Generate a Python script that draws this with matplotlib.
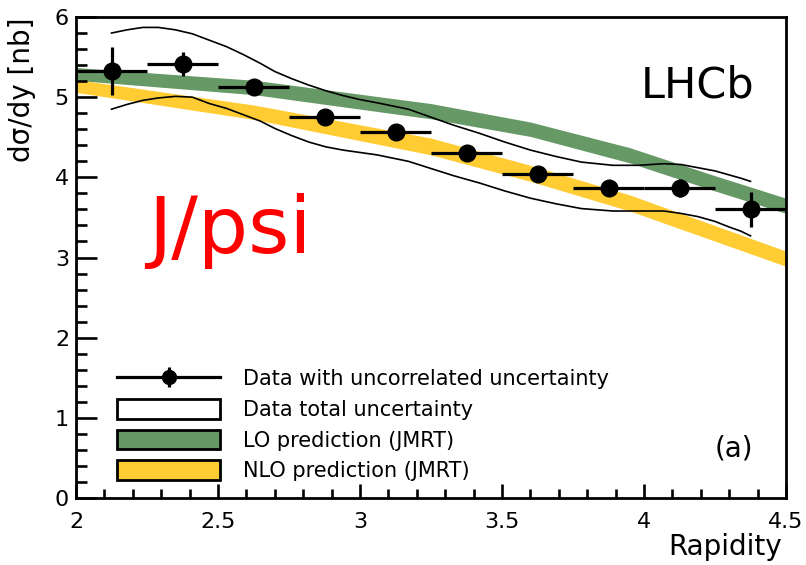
import matplotlib
matplotlib.use("Agg")
import matplotlib.pyplot as plt
from matplotlib.lines import Line2D
from matplotlib.patches import Patch
from matplotlib.legend_handler import HandlerTuple
from matplotlib.ticker import MultipleLocator

plt.rcParams['font.family'] = ['DejaVu Sans']

# ---- data ----
rap_centers = [2.125, 2.375, 2.625, 2.875, 3.125, 3.375, 3.625, 3.875, 4.125, 4.375]
rap_halfwidth = [0.125] * 10
xsec = [5.33, 5.41, 5.13, 4.75, 4.56, 4.30, 4.04, 3.87, 3.87, 3.60]
xsec_stat = [0.30, 0.15, 0.05, 0.05, 0.05, 0.05, 0.05, 0.05, 0.11, 0.22]

tot_x = [2.125, 2.18, 2.235, 2.29, 2.35, 2.41, 2.47, 2.53, 2.59, 2.65, 2.70, 2.76, 2.82,
         2.88, 2.94, 3.00, 3.06, 3.17, 3.25, 3.33, 3.42, 3.51, 3.60, 3.69, 3.78, 3.89,
         3.98, 4.07, 4.13, 4.19, 4.25, 4.30, 4.34, 4.375]
tot_up = [5.80, 5.84, 5.87, 5.87, 5.84, 5.79, 5.71, 5.63, 5.53, 5.42, 5.32, 5.23, 5.15,
          5.08, 5.02, 4.97, 4.93, 4.85, 4.75, 4.65, 4.55, 4.44, 4.34, 4.26, 4.19, 4.15,
          4.15, 4.17, 4.16, 4.12, 4.08, 4.03, 3.99, 3.95]
tot_dn = [4.85, 4.91, 4.96, 4.99, 5.01, 5.00, 4.92, 4.86, 4.78, 4.70, 4.61, 4.52, 4.44,
          4.38, 4.34, 4.31, 4.28, 4.20, 4.11, 4.02, 3.93, 3.83, 3.74, 3.67, 3.61, 3.58,
          3.58, 3.58, 3.55, 3.51, 3.45, 3.38, 3.33, 3.27]

lo_x = [2.0, 2.63, 3.25, 3.6, 3.95, 4.25, 4.5]
lo_up = [5.37, 5.21, 4.92, 4.69, 4.37, 4.02, 3.74]
lo_dn = [5.21, 5.03, 4.73, 4.51, 4.18, 3.83, 3.55]

nlo_x = [2.0, 2.63, 3.25, 3.6, 3.95, 4.5]
nlo_up = [5.22, 4.90, 4.49, 4.15, 3.78, 3.08]
nlo_dn = [5.06, 4.72, 4.28, 3.95, 3.58, 2.89]

legend_labels = ["Data with uncorrelated uncertainty", "Data total uncertainty",
                 "LO prediction (JMRT)", "NLO prediction (JMRT)"]

GREEN = "#669966"
YELLOW = "#FFCC33"

fig = plt.figure(figsize=(8.06, 5.65), dpi=100)
ax = fig.add_axes([76/806, 67/565, 710/806, 481/565])

ax.fill_between(lo_x, lo_dn, lo_up, color=GREEN, lw=0, zorder=1)
ax.fill_between(nlo_x, nlo_dn, nlo_up, color=YELLOW, lw=0, zorder=1)
ax.plot(tot_x, tot_up, color='black', lw=1.2, zorder=2)
ax.plot(tot_x, tot_dn, color='black', lw=1.2, zorder=2)
ax.errorbar(rap_centers, xsec, xerr=rap_halfwidth, yerr=xsec_stat, fmt='o',
            color='black', ms=12, elinewidth=2.3, capsize=0, zorder=3)

ax.set_xlim(2, 4.5)
ax.set_ylim(0, 6)
ax.xaxis.set_major_locator(MultipleLocator(0.5))
ax.xaxis.set_minor_locator(MultipleLocator(0.1))
ax.yaxis.set_major_locator(MultipleLocator(1))
ax.yaxis.set_minor_locator(MultipleLocator(0.2))
ax.set_xticks([2, 2.5, 3, 3.5, 4, 4.5])
ax.set_xticklabels(["2", "2.5", "3", "3.5", "4", "4.5"])

for s in ax.spines.values():
    s.set_linewidth(2.0)
ax.tick_params(axis='both', which='both', direction='in', top=False, right=False,
               width=1.9, labelsize=16)
ax.tick_params(axis='y', which='major', length=15, pad=5)
ax.tick_params(axis='y', which='minor', length=8)
ax.tick_params(axis='x', which='major', length=10, pad=10)
ax.tick_params(axis='x', which='minor', length=6.5)

fig.text(782/806, 10/565, "Rapidity", ha='right', va='baseline', fontsize=20)
fig.text(22/806, 1 - 18/565, "dσ/dy [nb]", rotation=90, ha='center', va='top', fontsize=20)

ax.text(0.956, 0.832, "LHCb", transform=ax.transAxes, ha='right', va='baseline', fontsize=31)
ax.text(0.954, 0.102, "(a)", transform=ax.transAxes, ha='right', va='center', fontsize=20)
ax.text(0.101, 0.509, "J/psi", transform=ax.transAxes, ha='left', va='baseline',
        fontsize=57, color='#FF0000')

h_data = (Line2D([], [], color='black', lw=2.3, marker='o', ms=10),
          Line2D([], [], color='black', lw=0, marker='|', ms=15, mew=2.3))
h_tot = Patch(facecolor='white', edgecolor='black', lw=2.0)
h_lo = Patch(facecolor=GREEN, edgecolor='black', lw=2.0)
h_nlo = Patch(facecolor=YELLOW, edgecolor='black', lw=2.0)
leg = ax.legend([h_data, h_tot, h_lo, h_nlo], legend_labels,
                handler_map={tuple: HandlerTuple(ndivide=1)},
                loc='lower left', bbox_to_anchor=(0.058, 0.035), borderaxespad=0,
                borderpad=0, frameon=False, fontsize=15, handlelength=4.95,
                handleheight=1.05, labelspacing=0.47, handletextpad=1.1, numpoints=1)

fig.savefig("out.png", dpi=100)
